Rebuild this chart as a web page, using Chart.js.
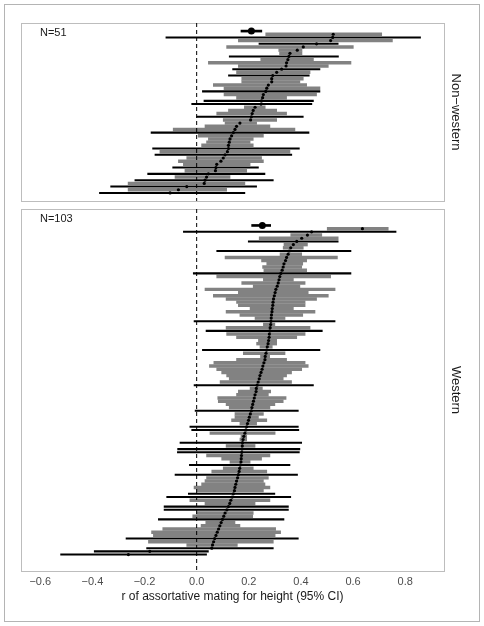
<!DOCTYPE html>
<html>
<head>
<meta charset="utf-8">
<script src="https://cdn.jsdelivr.net/npm/chart.js@4.4.1/dist/chart.umd.min.js"></script>
<style>
body { margin: 0; background: #fff; }
#frame { position: absolute; left: 4px; top: 4px; width: 474px; height: 616px; border: 1px solid #b4b4b4; }
canvas { position: absolute; left: 0; }
</style>
</head>
<body>
<div id="frame"></div>
<canvas id="nw" width="484" height="205" style="top:0"></canvas>
<canvas id="w" width="484" height="421" style="top:205px"></canvas>
<script>
const xTicks = [-0.6, -0.4, -0.2, 0, 0.2, 0.4, 0.6, 0.8];

// Non-western studies, sorted by r (top to bottom)
const nwR  = [0.524, 0.522, 0.514, 0.460, 0.409, 0.386, 0.358, 0.354, 0.350, 0.345,
              0.343, 0.326, 0.307, 0.292, 0.288, 0.288, 0.275, 0.269, 0.265, 0.256,
              0.253, 0.249, 0.247, 0.224, 0.217, 0.213, 0.210, 0.207, 0.166, 0.153,
              0.147, 0.141, 0.134, 0.128, 0.125, 0.122, 0.122, 0.118, 0.109, 0.102,
              0.093, 0.077, 0.074, 0.072, 0.045, 0.038, 0.032, 0.029, -0.038, -0.070, -0.102];
const nwLo = [0.265, -0.118, 0.160, 0.239, 0.115, 0.315, 0.318, 0.125, 0.246, 0.045,
              0.160, 0.138, 0.153, 0.122, 0.173, 0.173, 0.064, 0.105, 0.022, 0.105,
              0.153, 0.028, -0.019, 0.183, 0.122, 0.077, 0.000, 0.102, 0.109, 0.032,
              -0.090, -0.175, 0.006, 0.045, 0.038, 0.019, -0.169, -0.141, -0.160, -0.038,
              -0.070, -0.051, -0.092, -0.045, -0.188, -0.083, -0.237, -0.263, -0.330, -0.263, -0.373];
const nwHi = [0.710, 0.859, 0.751, 0.543, 0.601, 0.404, 0.404, 0.544, 0.448, 0.592,
              0.505, 0.473, 0.435, 0.432, 0.409, 0.396, 0.422, 0.473, 0.473, 0.460,
              0.345, 0.448, 0.442, 0.263, 0.307, 0.345, 0.409, 0.307, 0.230, 0.281,
              0.377, 0.431, 0.256, 0.217, 0.205, 0.217, 0.394, 0.358, 0.365, 0.249,
              0.256, 0.205, 0.237, 0.192, 0.262, 0.128, 0.294, 0.185, 0.230, 0.115, 0.185];
const nwBlack = [2, 4, 8, 12, 14, 19, 22, 23, 27, 32, 37, 39, 43, 45, 47, 49, 51];
const nwPooled = [0.21, 0.17, 0.25];

// Western studies, sorted by r (top to bottom)
const wR  = [0.636, 0.441, 0.425, 0.403, 0.384, 0.371, 0.361, 0.355, 0.351, 0.345,
             0.341, 0.335, 0.332, 0.328, 0.323, 0.319, 0.316, 0.313, 0.309, 0.304,
             0.301, 0.298, 0.295, 0.293, 0.292, 0.290, 0.289, 0.287, 0.286, 0.285,
             0.284, 0.282, 0.281, 0.279, 0.278, 0.276, 0.274, 0.271, 0.268, 0.266,
             0.263, 0.262, 0.258, 0.254, 0.251, 0.247, 0.243, 0.240, 0.236, 0.232,
             0.229, 0.228, 0.224, 0.221, 0.218, 0.215, 0.212, 0.210, 0.206, 0.202,
             0.199, 0.195, 0.192, 0.189, 0.185, 0.181, 0.178, 0.176, 0.175, 0.174,
             0.173, 0.172, 0.171, 0.170, 0.167, 0.165, 0.163, 0.160, 0.157, 0.153,
             0.150, 0.147, 0.145, 0.141, 0.136, 0.131, 0.127, 0.122, 0.116, 0.109,
             0.104, 0.099, 0.094, 0.089, 0.084, 0.079, 0.074, 0.069, 0.065, 0.061,
             0.058, -0.180, -0.262];
const wLo = [0.501, -0.051, 0.361, 0.240, 0.198, 0.335, 0.332, 0.077, 0.320, 0.109,
             0.249, 0.269, 0.253, 0.258, -0.013, 0.077, 0.256, 0.173, 0.217, 0.032,
             0.160, 0.064, 0.113, 0.153, 0.160, 0.205, 0.113, 0.166, 0.224, -0.010,
             0.256, 0.113, 0.036, 0.115, 0.153, 0.237, 0.230, 0.243, 0.022, 0.179,
             0.245, 0.153, 0.066, 0.049, 0.077, 0.096, 0.115, 0.125, 0.090, -0.010,
             0.205, 0.160, 0.153, 0.081, 0.083, 0.113, 0.125, -0.006, 0.147, 0.147,
             0.134, 0.166, -0.026, -0.019, 0.051, 0.170, 0.166, -0.064, 0.113, -0.073,
             -0.074, 0.038, 0.096, 0.128, -0.028, 0.102, 0.058, -0.083, 0.038, 0.032,
             0.019, -0.010, 0.000, -0.032, -0.115, -0.026, 0.032, -0.125, -0.125, 0.000,
             -0.015, -0.147, 0.035, 0.017, -0.130, -0.173, -0.166, -0.271, -0.185, -0.038,
             -0.192, -0.393, -0.522];
const wHi = [0.735, 0.765, 0.480, 0.543, 0.543, 0.425, 0.409, 0.592, 0.403, 0.540,
             0.422, 0.407, 0.403, 0.422, 0.592, 0.514, 0.371, 0.416, 0.396, 0.531,
             0.428, 0.505, 0.460, 0.416, 0.416, 0.371, 0.454, 0.407, 0.339, 0.531,
             0.300, 0.435, 0.482, 0.416, 0.384, 0.307, 0.307, 0.290, 0.473, 0.339,
             0.280, 0.345, 0.416, 0.428, 0.403, 0.364, 0.345, 0.332, 0.364, 0.448,
             0.252, 0.284, 0.275, 0.343, 0.332, 0.300, 0.281, 0.390, 0.256, 0.237,
             0.269, 0.230, 0.390, 0.392, 0.301, 0.192, 0.192, 0.403, 0.224, 0.396,
             0.394, 0.281, 0.249, 0.205, 0.358, 0.217, 0.269, 0.387, 0.275, 0.256,
             0.262, 0.281, 0.256, 0.300, 0.361, 0.281, 0.224, 0.352, 0.352, 0.217,
             0.215, 0.335, 0.147, 0.166, 0.303, 0.322, 0.301, 0.390, 0.294, 0.156,
             0.294, 0.045, 0.038];
const wBlack = [2, 5, 8, 15, 30, 33, 39, 50, 58, 63, 64, 68, 70, 71, 75, 78, 84, 85,
                88, 89, 92, 98, 101, 102, 103];
const wPooled = [0.252, 0.211, 0.284];

Chart.defaults.font.family = '"Liberation Sans", Arial, Helvetica, sans-serif';

const fmt = v => (v < 0 ? '\u2212' : '') + Math.abs(v).toFixed(1);

const panelBox = {
  id: 'panelBox',
  beforeDatasetsDraw(chart, args, opts) {
    const a = chart.chartArea;
    const ctx = chart.ctx;
    ctx.save();
    ctx.strokeStyle = '#bdbdbd';
    ctx.lineWidth = 1;
    ctx.strokeRect(Math.round(a.left) + 0.5, Math.round(a.top) + 0.5, Math.round(a.width), Math.round(a.height));
    ctx.restore();
  },
  afterDraw(chart, args, opts) {
    const a = chart.chartArea;
    const ctx = chart.ctx;
    ctx.save();
    ctx.fillStyle = '#1a1a1a';
    ctx.font = '11px "Liberation Sans", Arial, sans-serif';
    ctx.textBaseline = 'middle';
    ctx.fillText(opts.note, a.left + 19, a.top + 10);
    ctx.restore();
  }
};

function panel(id, label, r, lo, hi, black, pooled, withAxis) {
  const n = r.length;
  const pad = n * 0.05;
  const grey = [], dark = [];
  r.forEach((v, i) => {
    const k = i + 1;
    (black.includes(k) ? dark : grey).push({ x: [lo[i], hi[i]], y: k });
  });

  return new Chart(document.getElementById(id), {
    type: 'bar',
    data: {
      datasets: [
        { data: grey, indexAxis: 'y', backgroundColor: '#828282', barThickness: 2.8, grouped: false, order: 5 },
        { data: dark, indexAxis: 'y', backgroundColor: '#000', barThickness: 1.4, grouped: false, order: 4 },
        { data: [{ x: [pooled[1], pooled[2]], y: 0 }], indexAxis: 'y', backgroundColor: '#000',
          barThickness: 2, grouped: false, order: 3 },
        { type: 'line', data: r.map((v, i) => ({ x: v, y: i + 1 })), showLine: false,
          pointRadius: 1.6, pointBackgroundColor: '#000', pointBorderWidth: 0, order: 2 },
        { type: 'line', data: [{ x: pooled[0], y: 0 }], showLine: false,
          pointRadius: 3.5, pointBackgroundColor: '#000', pointBorderWidth: 0, order: 1 },
        { type: 'line', data: [{ x: 0, y: -pad }, { x: 0, y: n + pad }], borderColor: '#000',
          borderWidth: 1, borderDash: [4, 3], pointRadius: 0, order: 0 }
      ]
    },
    options: {
      responsive: false,
      animation: false,
      events: [],
      layout: {
        padding: withAxis ? { left: 21, right: 21, top: 4, bottom: 22 }
                          : { left: 21, right: 21, top: 23, bottom: 4 }
      },
      plugins: {
        legend: { display: false },
        tooltip: { enabled: false },
        panelBox: { note: 'N=' + n }
      },
      scales: {
        x: {
          type: 'linear', min: -0.674, max: 0.949, offset: false, display: withAxis,
          grid: { display: false, drawTicks: false, offset: false },
          border: { display: false },
          afterBuildTicks: s => { s.ticks = xTicks.map(v => ({ value: v })); },
          afterFit: s => { if (withAxis) s.height = 33; },
          ticks: { padding: 4, color: '#4d4d4d', font: { size: 11 }, callback: v => fmt(v) },
          title: { display: true, text: 'r of assortative mating for height (95% CI)',
                   color: '#1a1a1a', font: { size: 12 }, padding: 0 }
        },
        y: {
          type: 'linear', position: 'right', reverse: true, min: -pad, max: n + pad, offset: false,
          grid: { display: false, drawTicks: false, offset: false },
          border: { display: false },
          ticks: { display: false },
          afterFit: s => { s.width = 19; },
          title: { display: true, text: label, color: '#1a1a1a', font: { size: 13 }, padding: 0 }
        }
      }
    },
    plugins: [panelBox]
  });
}

panel('nw', 'Non\u2212western', nwR, nwLo, nwHi, nwBlack, nwPooled, false);
panel('w', 'Western', wR, wLo, wHi, wBlack, wPooled, true);
</script>
</body>
</html>
